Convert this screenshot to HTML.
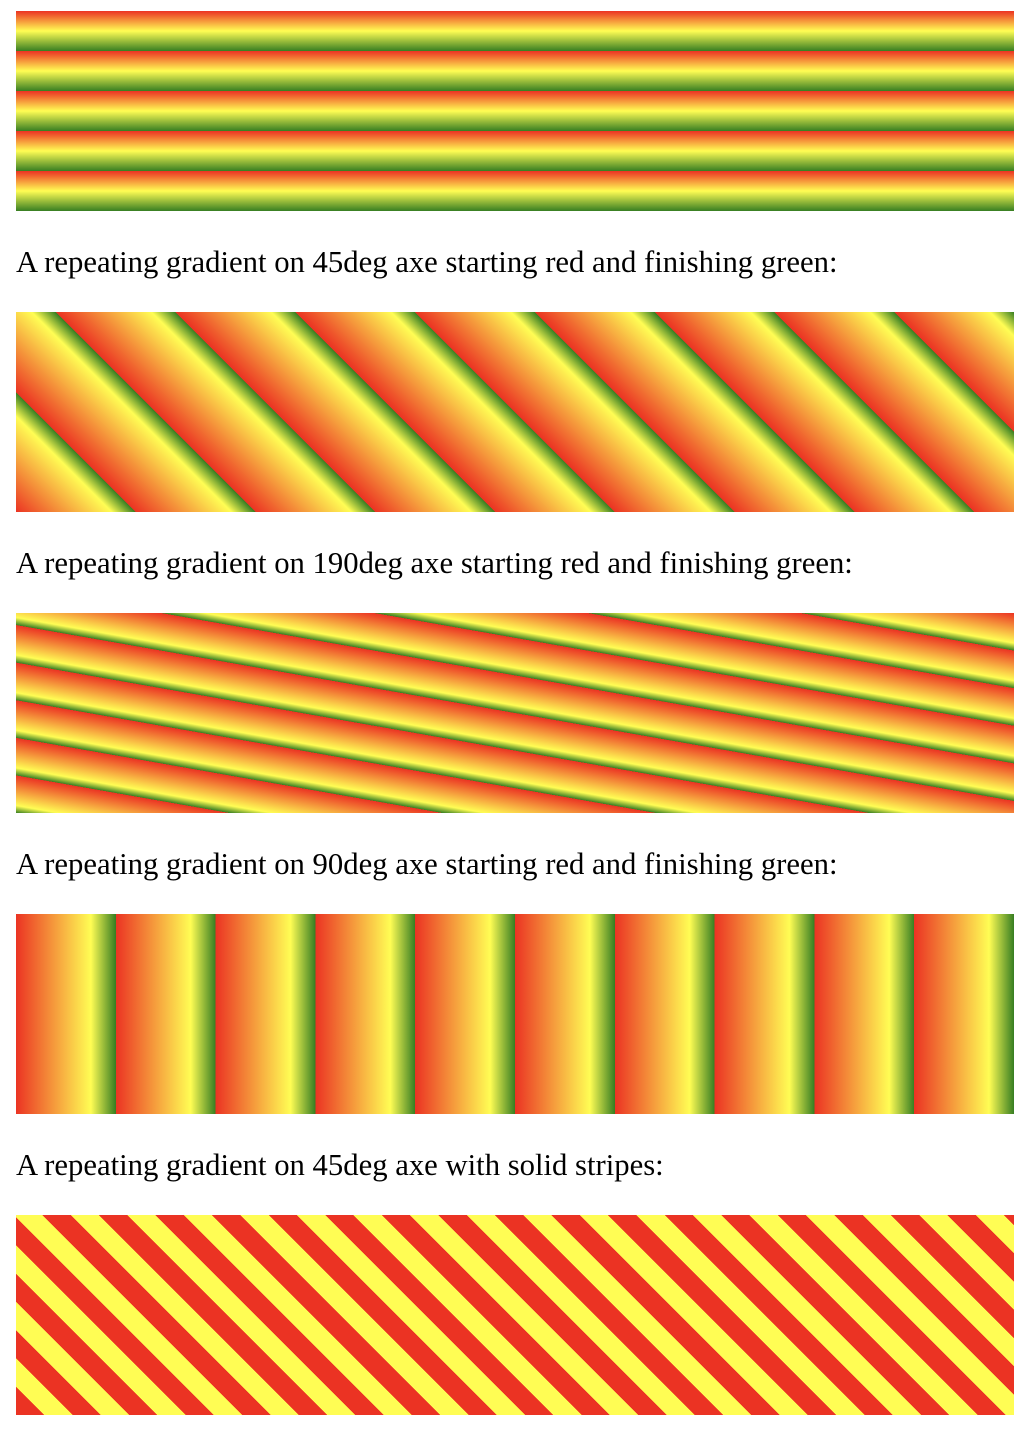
<!DOCTYPE html>
<html><head><meta charset="utf-8"><style>
html,body{margin:0;padding:0;background:#fff;width:1024px;height:1429px;overflow:hidden}
.box{position:absolute;left:16px;width:998px;height:200px}
.t{position:absolute;left:16px;margin:0;font-family:"Liberation Serif",serif;font-size:30.7px;line-height:36px;color:#000;white-space:nowrap}
#g1{top:11px;background:repeating-linear-gradient(#eb3323,#fffd54 10%,#377e22 20%)}
#g2{top:312px;background:repeating-linear-gradient(45deg,#eb3323,#fffd54 8%,#377e22 10%)}
#g3{top:613px;background:repeating-linear-gradient(190deg,#eb3323,#fffd54 8%,#377e22 10%)}
#g4{top:914px;background:repeating-linear-gradient(90deg,#eb3323,#fffd54 7.5%,#377e22 10%)}
#g5{top:1215px;background:repeating-linear-gradient(45deg,#eb3323 0,#eb3323 20px,#fffd54 20px,#fffd54 40px)}
</style></head><body>
<div class="box" id="g1"></div>
<p class="t" style="top:244px">A repeating gradient on 45deg axe starting red and finishing green:</p>
<div class="box" id="g2"></div>
<p class="t" style="top:545px">A repeating gradient on 190deg axe starting red and finishing green:</p>
<div class="box" id="g3"></div>
<p class="t" style="top:846px">A repeating gradient on 90deg axe starting red and finishing green:</p>
<div class="box" id="g4"></div>
<p class="t" style="top:1147px">A repeating gradient on 45deg axe with solid stripes:</p>
<div class="box" id="g5"></div>
</body></html>
